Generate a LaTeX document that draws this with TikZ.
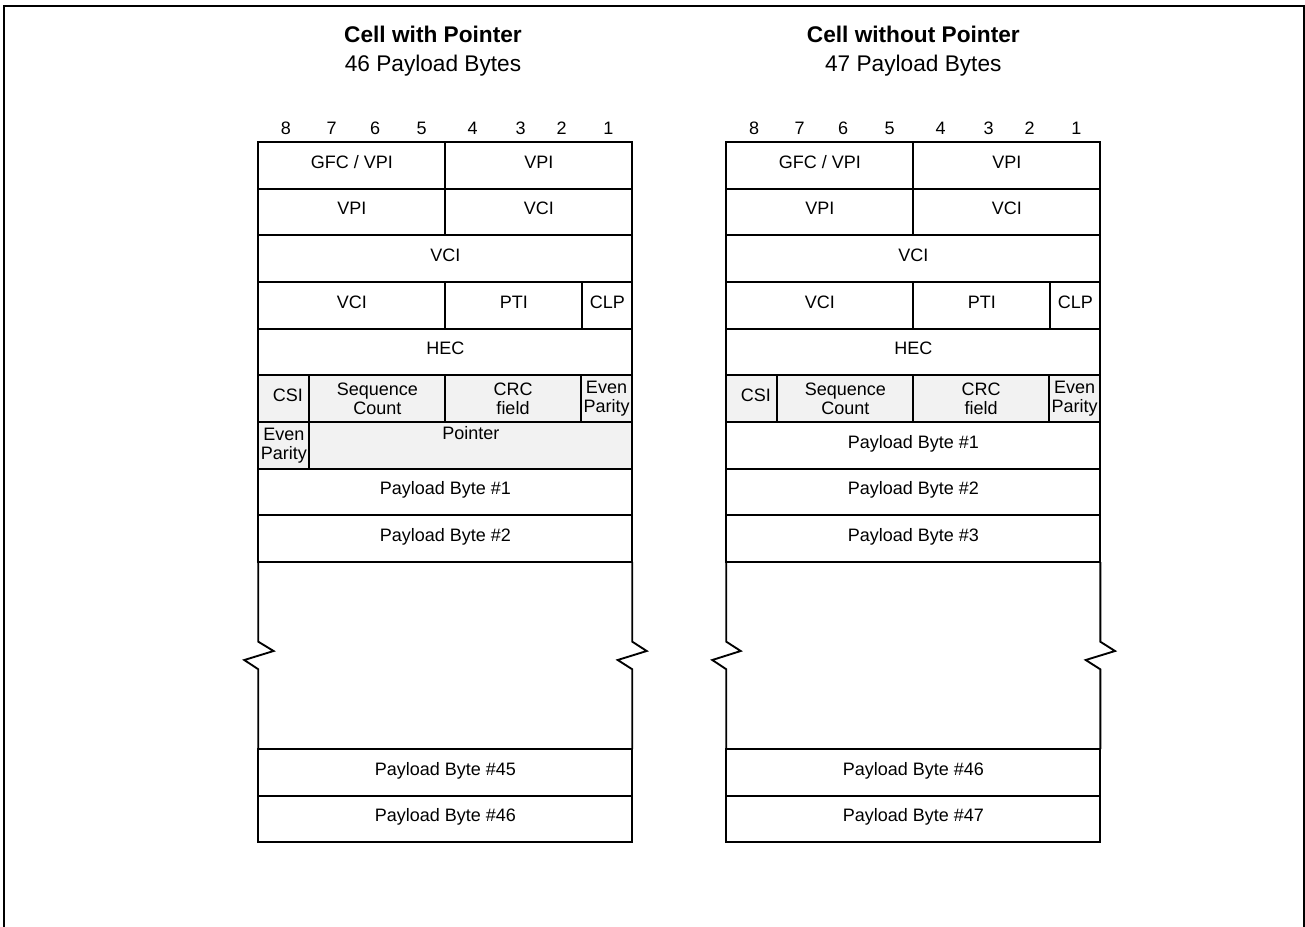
\documentclass[tikz,border=0pt]{standalone}
\usepackage{fontspec}
\setmainfont{Liberation Sans}
\definecolor{shade}{HTML}{F2F2F2}
\newcommand\bodyfont{\fontsize{13.5}{14.3}\selectfont}
\newcommand\titlefont{\fontsize{17}{20}\selectfont}
\newcommand\fld[7][fld]{\node[#1,minimum width={(#5-#3)*0.75pt},minimum height={(#6-#4)*0.75pt}] (#2) at ({(#3+#5)/2},{(#4+#6)/2}) {#7};}
\begin{document}
\begin{tikzpicture}[x=0.75pt,y=-0.75pt,
  base/.style={draw,line width=1.4pt,inner sep=0pt,outer sep=0pt,font=\bodyfont},
  fld/.style={base,text height=0.72em,text depth=0.28em},
  fld2/.style={base,align=center},
  bit/.style={font=\bodyfont,inner sep=0pt,text height=0.72em,text depth=0pt},
  ttl/.style={inner sep=0pt,text height=0.72em,text depth=0pt},
  wall/.style={line width=1.4pt,line join=miter}]
\useasboundingbox (0,0) rectangle (1305,927);
\draw[line width=1.6pt] (4,927) -- (4,6) -- (1304,6) -- (1304,927);
% titles
\node[ttl,font=\titlefont\bfseries] (t1) at (433,38) {Cell with Pointer};
\node[ttl,font=\titlefont] (s1) at (433,66.3) {46 Payload Bytes};
\node[ttl,font=\titlefont\bfseries] (t2) at (913.3,38) {Cell without Pointer};
\node[ttl,font=\titlefont] (s2) at (913.3,66.3) {47 Payload Bytes};
% bit numbers
\foreach \x/\b in {286/8,331.7/7,375/6,421.7/5,472.7/4,520.7/3,561.7/2,608.3/1}{
  \node[bit] (la\b) at (\x,130) {\b};
  \node[bit] (ra\b) at (\x+468,130) {\b};
}
% ---------- left cell ----------
\fld{a1}{258.3}{142}{445.3}{188.7}{GFC / VPI}
\fld{a2}{445.3}{142}{632.3}{188.7}{VPI}
\fld{a3}{258.3}{188.7}{445.3}{235.3}{VPI}
\fld{a4}{445.3}{188.7}{632.3}{235.3}{VCI}
\fld{a5}{258.3}{235.3}{632.3}{282}{VCI}
\fld{a6}{258.3}{282}{445.3}{328.7}{VCI}
\fld{a7}{445.3}{282}{582.3}{328.7}{PTI}
\fld{a8}{582.3}{282}{632.3}{328.7}{CLP}
\fld{a9}{258.3}{328.7}{632.3}{375.3}{HEC}
\fld[fld,fill=shade]{a10}{258.3}{375.3}{309.3}{422}{\hspace{6pt}CSI}
\fld[fld2,fill=shade]{a11}{309.3}{375.3}{445.3}{422}{Sequence\\Count}
\fld[fld2,fill=shade]{a12}{445.3}{375.3}{580.7}{422}{CRC\\field}
\fld[fld2,fill=shade]{a13}{580.7}{375.3}{632.3}{422}{Even\\Parity}
\fld[fld2,fill=shade]{a14}{258.3}{422}{309.3}{468.7}{Even\\Parity}
\fld[fld,fill=shade,text depth=16pt]{a15}{309.3}{422}{632.3}{468.7}{Pointer}
\fld{a16}{258.3}{468.7}{632.3}{515.3}{Payload Byte \#1}
\fld{a17}{258.3}{515.3}{632.3}{562}{Payload Byte \#2}
\fld{a18}{258.3}{749}{632.3}{795.7}{Payload Byte \#45}
\fld{a19}{258.3}{795.7}{632.3}{842.3}{Payload Byte \#46}
% ---------- right cell ----------
\fld{b1}{726.3}{142}{913.3}{188.7}{GFC / VPI}
\fld{b2}{913.3}{142}{1100.3}{188.7}{VPI}
\fld{b3}{726.3}{188.7}{913.3}{235.3}{VPI}
\fld{b4}{913.3}{188.7}{1100.3}{235.3}{VCI}
\fld{b5}{726.3}{235.3}{1100.3}{282}{VCI}
\fld{b6}{726.3}{282}{913.3}{328.7}{VCI}
\fld{b7}{913.3}{282}{1050.3}{328.7}{PTI}
\fld{b8}{1050.3}{282}{1100.3}{328.7}{CLP}
\fld{b9}{726.3}{328.7}{1100.3}{375.3}{HEC}
\fld[fld,fill=shade]{b10}{726.3}{375.3}{777.3}{422}{\hspace{6pt}CSI}
\fld[fld2,fill=shade]{b11}{777.3}{375.3}{913.3}{422}{Sequence\\Count}
\fld[fld2,fill=shade]{b12}{913.3}{375.3}{1048.7}{422}{CRC\\field}
\fld[fld2,fill=shade]{b13}{1048.7}{375.3}{1100.3}{422}{Even\\Parity}
\fld{b14}{726.3}{422}{1100.3}{468.7}{Payload Byte \#1}
\fld{b15}{726.3}{468.7}{1100.3}{515.3}{Payload Byte \#2}
\fld{b16}{726.3}{515.3}{1100.3}{562}{Payload Byte \#3}
\fld{b17}{726.3}{749}{1100.3}{795.7}{Payload Byte \#46}
\fld{b18}{726.3}{795.7}{1100.3}{842.3}{Payload Byte \#47}
% ---------- broken side walls ----------
\coordinate (zz) at (0,641.7);
\draw[wall] (a17.south west) -- (a17.south west |- zz) -- ++(15.3,9.3) -- ++(-29.3,9) -- ++(14,9.3) -- (a18.north west);
\draw[wall] (a17.south east) -- (a17.south east |- zz) -- ++(14.4,9.3) -- ++(-29,9) -- ++(14.6,9.3) -- (a18.north east);
\draw[wall] (b16.south west) -- (b16.south west |- zz) -- ++(14.4,9.3) -- ++(-28.4,9) -- ++(14,9.3) -- (b17.north west);
\draw[wall] (b16.south east) -- (b16.south east |- zz) -- ++(14.7,9.3) -- ++(-29.3,9) -- ++(14.6,9.3) -- (b17.north east);
\end{tikzpicture}
\end{document}
